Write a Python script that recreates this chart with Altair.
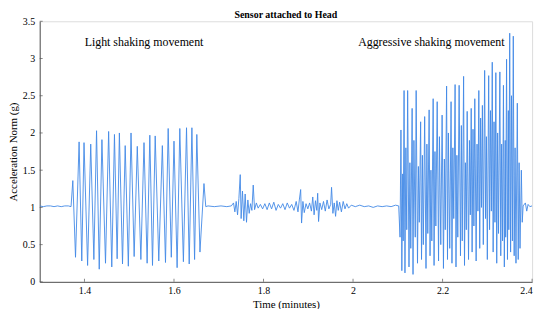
import altair as alt
import pandas as pd

# ---- data ----
base_start_t = [1.300, 1.308, 1.316, 1.324, 1.332, 1.340, 1.348, 1.356, 1.364, 1.370]
base_start_v = [1.02, 1.01, 1.02, 1.02, 1.01, 1.02, 1.01, 1.02, 1.02, 1.01]

light_t = [1.374, 1.380, 1.388, 1.394, 1.399, 1.407, 1.414, 1.421, 1.427, 1.433,
           1.439, 1.447, 1.454, 1.461, 1.467, 1.473, 1.478, 1.485, 1.491, 1.498,
           1.504, 1.511, 1.518, 1.526, 1.533, 1.540, 1.546, 1.552, 1.558, 1.566,
           1.574, 1.581, 1.587, 1.594, 1.600, 1.607, 1.613, 1.621, 1.628, 1.634,
           1.640, 1.646, 1.651, 1.658, 1.667, 1.671]
light_v = [1.36, 0.33, 1.88, 0.28, 1.87, 0.22, 1.85, 0.30, 2.03, 0.17,
           1.91, 0.25, 2.02, 0.20, 1.98, 0.31, 2.00, 0.24, 1.83, 0.21,
           2.00, 0.34, 1.82, 0.30, 1.87, 0.25, 1.97, 0.22, 1.96, 0.28,
           1.83, 0.26, 2.06, 0.33, 1.89, 0.19, 2.06, 0.27, 2.07, 0.24,
           2.07, 0.30, 1.98, 0.40, 1.32, 1.01]

calm_t = [1.676, 1.690, 1.705, 1.718, 1.728, 1.733, 1.736, 1.739, 1.742, 1.745,
          1.748, 1.750, 1.753, 1.756, 1.759, 1.762, 1.765, 1.768, 1.771, 1.774,
          1.777, 1.780, 1.784, 1.788, 1.793, 1.798, 1.803, 1.808, 1.813, 1.818,
          1.823, 1.828, 1.833, 1.838, 1.843, 1.848, 1.853, 1.858, 1.863, 1.868,
          1.873, 1.877, 1.880, 1.883, 1.885, 1.888, 1.891, 1.895, 1.899, 1.903,
          1.907, 1.910, 1.913, 1.916, 1.919, 1.921, 1.923, 1.926, 1.930, 1.934,
          1.938, 1.942, 1.946, 1.950, 1.952, 1.955, 1.958, 1.961, 1.964, 1.967,
          1.970, 1.974, 1.978, 1.982, 1.986, 1.990, 1.996, 2.005, 2.015, 2.025,
          2.035, 2.045, 2.055, 2.065, 2.075, 2.085, 2.095, 2.102]
calm_v = [1.02, 1.01, 1.02, 1.01, 1.02, 1.06, 0.94, 1.08, 0.90, 1.12,
          1.44, 0.85, 1.22, 0.82, 1.18, 0.80, 1.10, 0.92, 1.05, 0.96,
          1.30, 0.97, 1.06, 0.99, 1.04, 0.98, 1.05, 0.97, 1.06, 0.98,
          1.07, 0.96, 1.04, 0.99, 1.05, 0.97, 1.06, 0.99, 1.04, 0.96,
          1.08, 0.94, 1.10, 1.24, 0.79, 1.08, 0.93, 1.05, 0.98, 1.06,
          0.95, 1.14, 0.90, 1.09, 0.96, 1.19, 0.81, 1.06, 0.97, 1.08,
          0.95, 1.10, 0.98, 1.04, 1.27, 0.92, 1.06, 0.88, 1.09, 0.96,
          1.07, 0.94, 1.08, 0.98, 1.05, 0.99, 1.03, 1.01, 1.03, 1.01,
          1.02, 1.00, 1.02, 1.01, 1.02, 1.01, 1.03, 1.02]

aggr_t = [2.105, 2.107, 2.109, 2.111, 2.112, 2.114, 2.116, 2.118, 2.120, 2.122,
          2.125, 2.127, 2.129, 2.132, 2.134, 2.136, 2.139, 2.141, 2.144, 2.146,
          2.148, 2.151, 2.153, 2.155, 2.157, 2.160, 2.163, 2.165, 2.167, 2.170,
          2.172, 2.174, 2.176, 2.179, 2.181, 2.183, 2.185, 2.188, 2.191, 2.193,
          2.196, 2.199, 2.202, 2.204, 2.206, 2.209, 2.211, 2.213, 2.216, 2.219,
          2.221, 2.223, 2.225, 2.228, 2.230, 2.232, 2.234, 2.237, 2.240, 2.242,
          2.244, 2.247, 2.249, 2.251, 2.253, 2.255, 2.258, 2.260, 2.262, 2.264,
          2.266, 2.268, 2.270, 2.272, 2.275, 2.277, 2.279, 2.281, 2.283, 2.285,
          2.287, 2.289, 2.291, 2.294, 2.296, 2.298, 2.300, 2.303, 2.305, 2.307,
          2.309, 2.311, 2.313, 2.315, 2.317, 2.319, 2.321, 2.323, 2.325, 2.328,
          2.330, 2.332, 2.334, 2.336, 2.338, 2.340, 2.341, 2.343, 2.345, 2.347,
          2.348, 2.350, 2.352, 2.354, 2.356, 2.358, 2.360, 2.362, 2.364, 2.367,
          2.369, 2.371, 2.373, 2.376, 2.378]
aggr_v = [0.60, 2.04, 0.15, 1.45, 0.55, 2.57, 0.12, 1.80, 0.70, 2.57,
          0.20, 1.60, 0.45, 2.33, 0.10, 1.90, 0.60, 2.57, 0.25, 1.55,
          0.80, 2.15, 0.30, 1.70, 0.50, 2.22, 0.18, 1.85, 0.65, 2.31,
          0.35, 1.50, 0.55, 2.46, 0.22, 1.75, 0.75, 2.42, 0.28, 1.95,
          0.50, 2.24, 0.18, 1.65, 0.70, 2.63, 0.30, 2.00, 0.45, 2.42,
          0.25, 1.80, 0.85, 2.65, 0.20, 1.70, 0.60, 2.64, 0.35, 2.10,
          0.55, 2.76, 0.22, 1.60, 0.70, 2.29, 0.30, 1.90, 0.90, 2.33,
          0.40, 2.05, 0.75, 2.46, 0.28, 1.85, 0.95, 2.57, 0.45, 2.20,
          1.00, 2.37, 0.50, 2.84, 0.85, 1.95, 0.30, 2.77, 0.70, 2.30,
          0.95, 2.95, 0.40, 2.15, 0.80, 2.81, 0.25, 2.00, 0.65, 2.82,
          0.35, 1.85, 0.55, 2.64, 0.20, 1.90, 0.60, 2.99, 0.30, 2.30,
          0.70, 3.34, 0.40, 2.50, 0.55, 3.30, 0.35, 1.80, 0.25, 2.40,
          0.30, 1.60, 0.45, 1.50, 0.80]

base_end_t = [2.380, 2.385, 2.388, 2.391, 2.395, 2.400]
base_end_v = [1.02, 1.06, 0.95, 1.04, 1.01, 1.02]

x_ticks = [1.4, 1.6, 1.8, 2.0, 2.2, 2.4]
y_ticks = [0.0, 0.5, 1.0, 1.5, 2.0, 2.5, 3.0, 3.5]

notes = ["Light shaking movement", "Aggressive shaking movement"]
notes_t = [1.533, 2.175]
notes_v = [3.22, 3.22]

# ---- build table ----
t_all = base_start_t + light_t + calm_t + aggr_t + base_end_t
v_all = base_start_v + light_v + calm_v + aggr_v + base_end_v
df = pd.DataFrame({"t": t_all, "v": v_all})

FONT = "Liberation Serif"
AX = "#555555"
W, H = 497, 263

xs = alt.Scale(domain=[1.3, 2.4], nice=False, zero=False)
ys = alt.Scale(domain=[0, 3.5], nice=False)

xaxis = alt.Axis(values=x_ticks, format="~g", grid=False, tickSize=0,
                 labelOverlap=False, domainColor=AX, labelFont=FONT,
                 labelFontSize=10, labelColor="black", labelPadding=4,
                 titleFont=FONT, titleFontSize=11, titleFontWeight="normal",
                 titleColor="black", titlePadding=3)
yaxis = alt.Axis(values=y_ticks, format="~g", grid=False, tickSize=0,
                 labelOverlap=False, domainColor=AX, labelFont=FONT,
                 labelFontSize=10, labelColor="black", labelPadding=5,
                 titleFont=FONT, titleFontSize=11, titleFontWeight="normal",
                 titleColor="black", titlePadding=4)
XT = "Time (minutes)"
YT = "Acceleration Norm (g)"

line = alt.Chart(df).mark_line(color="#4289e6", strokeWidth=0.9, clip=True).encode(
    x=alt.X("t:Q", scale=xs, title=XT, axis=xaxis),
    y=alt.Y("v:Q", scale=ys, title=YT, axis=yaxis),
    order="t:Q",
)

xt = alt.Chart(pd.DataFrame({"t": x_ticks})).mark_tick(
    orient="vertical", size=3, thickness=1, color=AX, yOffset=-1.5
).encode(x=alt.X("t:Q", scale=xs, title=XT, axis=xaxis), y=alt.value(H))

yt = alt.Chart(pd.DataFrame({"v": y_ticks})).mark_tick(
    orient="horizontal", size=3, thickness=1, color=AX, xOffset=1.5
).encode(y=alt.Y("v:Q", scale=ys, title=YT, axis=yaxis), x=alt.value(0))

txt = alt.Chart(pd.DataFrame({"t": notes_t, "v": notes_v, "s": notes})).mark_text(
    font=FONT, fontSize=12, color="black", align="center", baseline="middle"
).encode(x=alt.X("t:Q", scale=xs, title=XT, axis=xaxis),
         y=alt.Y("v:Q", scale=ys, title=YT, axis=yaxis),
         text="s:N")

chart = alt.layer(line, xt, yt, txt).properties(
    width=W, height=H,
    title=alt.TitleParams("Sensor attached to Head", font=FONT, fontSize=10,
                          fontWeight="bold", color="black", anchor="middle",
                          offset=2, dy=6),
    autosize=alt.AutoSizeParams(type="none"),
    padding={"left": 32, "top": 12, "right": 10, "bottom": 26},
).configure_view(stroke=None).configure(background="white")

chart.save("out.html", embed_options={"renderer": "svg", "actions": False})
